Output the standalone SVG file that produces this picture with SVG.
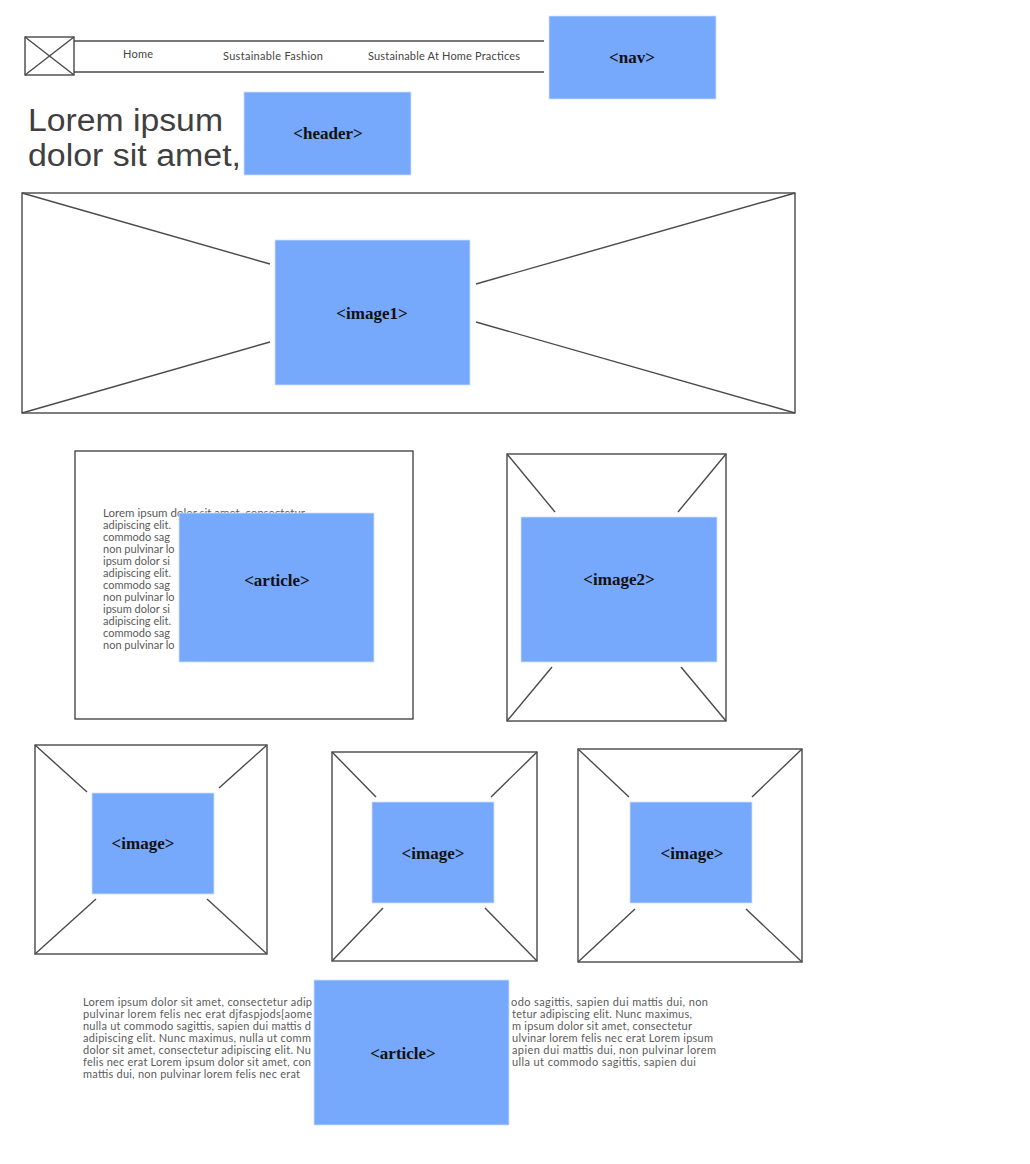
<svg xmlns="http://www.w3.org/2000/svg" width="1030" height="1164" viewBox="0 0 1030 1164">
<style>
.frame{fill:none;stroke:#3a3a3a;stroke-width:1.3}
.ln{stroke:#4a4a4a;stroke-width:1.4;fill:none}
.blue{fill:#76a8fb;stroke:#cfe0fd;stroke-width:0.8}
.lbl{font-family:"Liberation Serif","Times New Roman",serif;font-weight:bold;font-size:17px;fill:#111;text-anchor:middle}
.nav{font-family:Lato,"Liberation Sans",sans-serif;font-size:11px;fill:#444}
.body{font-family:Lato,"Liberation Sans",sans-serif;font-size:11px;fill:#5a5a5a}
.head{font-family:"Liberation Sans",Arial,sans-serif;font-size:31px;fill:#404040}
</style>
<rect width="1030" height="1164" fill="#ffffff"/>

<g id="navbar">
  <rect class="frame" x="25" y="37" width="49" height="38" stroke-width="1.8"/>
  <line class="ln" x1="25" y1="37" x2="74" y2="75"/>
  <line class="ln" x1="74" y1="37" x2="25" y2="75"/>
  <line class="ln" x1="74" y1="41" x2="544" y2="41"/>
  <line class="ln" x1="74" y1="72" x2="544" y2="72"/>
  <text class="nav" x="123" y="58" textLength="30">Home</text>
  <text class="nav" x="223" y="60" textLength="100">Sustainable Fashion</text>
  <text class="nav" x="368" y="60" textLength="152">Sustainable At Home Practices</text>
</g>

<g id="nav">
  <rect class="blue" x="549" y="16" width="167" height="83"/>
  <text class="lbl" x="632" y="63">&lt;nav&gt;</text>
</g>

<g id="heading">
  <text class="head" x="28" y="131" textLength="195" lengthAdjust="spacingAndGlyphs">Lorem ipsum</text>
  <text class="head" x="28" y="166" textLength="213" lengthAdjust="spacingAndGlyphs">dolor sit amet,</text>
</g>

<g id="header">
  <rect class="blue" x="244" y="92" width="167" height="83"/>
  <text class="lbl" x="328" y="139">&lt;header&gt;</text>
</g>

<g id="image1">
  <rect class="frame" x="22" y="193" width="773" height="220"/>
  <line class="ln" x1="22" y1="193" x2="270" y2="264"/>
  <line class="ln" x1="22" y1="413" x2="270" y2="342"/>
  <line class="ln" x1="795" y1="193" x2="476" y2="284"/>
  <line class="ln" x1="795" y1="413" x2="476" y2="322"/>
  <rect class="blue" x="275" y="240" width="195" height="145"/>
  <text class="lbl" x="372" y="319">&lt;image1&gt;</text>
</g>

<g id="article1">
  <rect class="frame" x="75" y="451" width="338" height="268"/>
  <text class="body" x="103" y="517" textLength="202" lengthAdjust="spacingAndGlyphs">Lorem ipsum dolor sit amet, consectetur</text>
  <text class="body" x="103" y="529">adipiscing elit.</text>
  <text class="body" x="103" y="541">commodo sag</text>
  <text class="body" x="103" y="553">non pulvinar lo</text>
  <text class="body" x="103" y="565">ipsum dolor si</text>
  <text class="body" x="103" y="577">adipiscing elit.</text>
  <text class="body" x="103" y="589">commodo sag</text>
  <text class="body" x="103" y="601">non pulvinar lo</text>
  <text class="body" x="103" y="613">ipsum dolor si</text>
  <text class="body" x="103" y="625">adipiscing elit.</text>
  <text class="body" x="103" y="637">commodo sag</text>
  <text class="body" x="103" y="649">non pulvinar lo</text>
  <rect class="blue" x="179" y="513" width="195" height="149"/>
  <text class="lbl" x="277" y="586">&lt;article&gt;</text>
</g>

<g id="image2">
  <rect class="frame" x="507" y="454" width="219" height="267"/>
  <line class="ln" x1="507" y1="454" x2="555" y2="512"/>
  <line class="ln" x1="726" y1="454" x2="678" y2="512"/>
  <line class="ln" x1="507" y1="721" x2="552" y2="667"/>
  <line class="ln" x1="726" y1="721" x2="681" y2="667"/>
  <rect class="blue" x="521" y="517" width="196" height="145"/>
  <text class="lbl" x="619" y="585">&lt;image2&gt;</text>
</g>

<g id="image3">
  <rect class="frame" x="35" y="745" width="232" height="209"/>
  <line class="ln" x1="35" y1="745" x2="87" y2="792"/>
  <line class="ln" x1="267" y1="745" x2="219" y2="788"/>
  <line class="ln" x1="35" y1="954" x2="96" y2="899"/>
  <line class="ln" x1="267" y1="954" x2="207" y2="899"/>
  <rect class="blue" x="92" y="793" width="122" height="101"/>
  <text class="lbl" x="143" y="849">&lt;image&gt;</text>
</g>

<g id="image4">
  <rect class="frame" x="332" y="752" width="205" height="209"/>
  <line class="ln" x1="332" y1="752" x2="376" y2="797"/>
  <line class="ln" x1="537" y1="752" x2="491" y2="797"/>
  <line class="ln" x1="332" y1="961" x2="383" y2="908"/>
  <line class="ln" x1="537" y1="961" x2="485" y2="908"/>
  <rect class="blue" x="372" y="802" width="122" height="101"/>
  <text class="lbl" x="433" y="859">&lt;image&gt;</text>
</g>

<g id="image5">
  <rect class="frame" x="578" y="749" width="224" height="213"/>
  <line class="ln" x1="578" y1="749" x2="629" y2="797"/>
  <line class="ln" x1="802" y1="749" x2="752" y2="797"/>
  <line class="ln" x1="578" y1="962" x2="635" y2="909"/>
  <line class="ln" x1="802" y1="962" x2="746" y2="909"/>
  <rect class="blue" x="630" y="802" width="122" height="101"/>
  <text class="lbl" x="692" y="859">&lt;image&gt;</text>
</g>

<g id="article2">
  <text class="body" x="83" y="1006" textLength="229">Lorem ipsum dolor sit amet, consectetur adip</text>
  <text class="body" x="83" y="1018" textLength="229">pulvinar lorem felis nec erat djfaspjods[aome</text>
  <text class="body" x="83" y="1030" textLength="228">nulla ut commodo sagittis, sapien dui mattis d</text>
  <text class="body" x="83" y="1042" textLength="228">adipiscing elit. Nunc maximus, nulla ut comm</text>
  <text class="body" x="83" y="1054" textLength="228">dolor sit amet, consectetur adipiscing elit. Nu</text>
  <text class="body" x="83" y="1066" textLength="228">felis nec erat Lorem ipsum dolor sit amet, con</text>
  <text class="body" x="83" y="1078" textLength="217">mattis dui, non pulvinar lorem felis nec erat</text>
  <text class="body" x="511" y="1006" textLength="197">odo sagittis, sapien dui mattis dui, non</text>
  <text class="body" x="512" y="1018" textLength="180">tetur adipiscing elit. Nunc maximus,</text>
  <text class="body" x="512" y="1030" textLength="180">m ipsum dolor sit amet, consectetur</text>
  <text class="body" x="512" y="1042" textLength="201">ulvinar lorem felis nec erat Lorem ipsum</text>
  <text class="body" x="512" y="1054" textLength="204">apien dui mattis dui, non pulvinar lorem</text>
  <text class="body" x="512" y="1066" textLength="184">ulla ut commodo sagittis, sapien dui</text>
  <rect class="blue" x="314" y="980" width="195" height="145"/>
  <text class="lbl" x="403" y="1059">&lt;article&gt;</text>
</g>

<g id="connectors"/>
</svg>
